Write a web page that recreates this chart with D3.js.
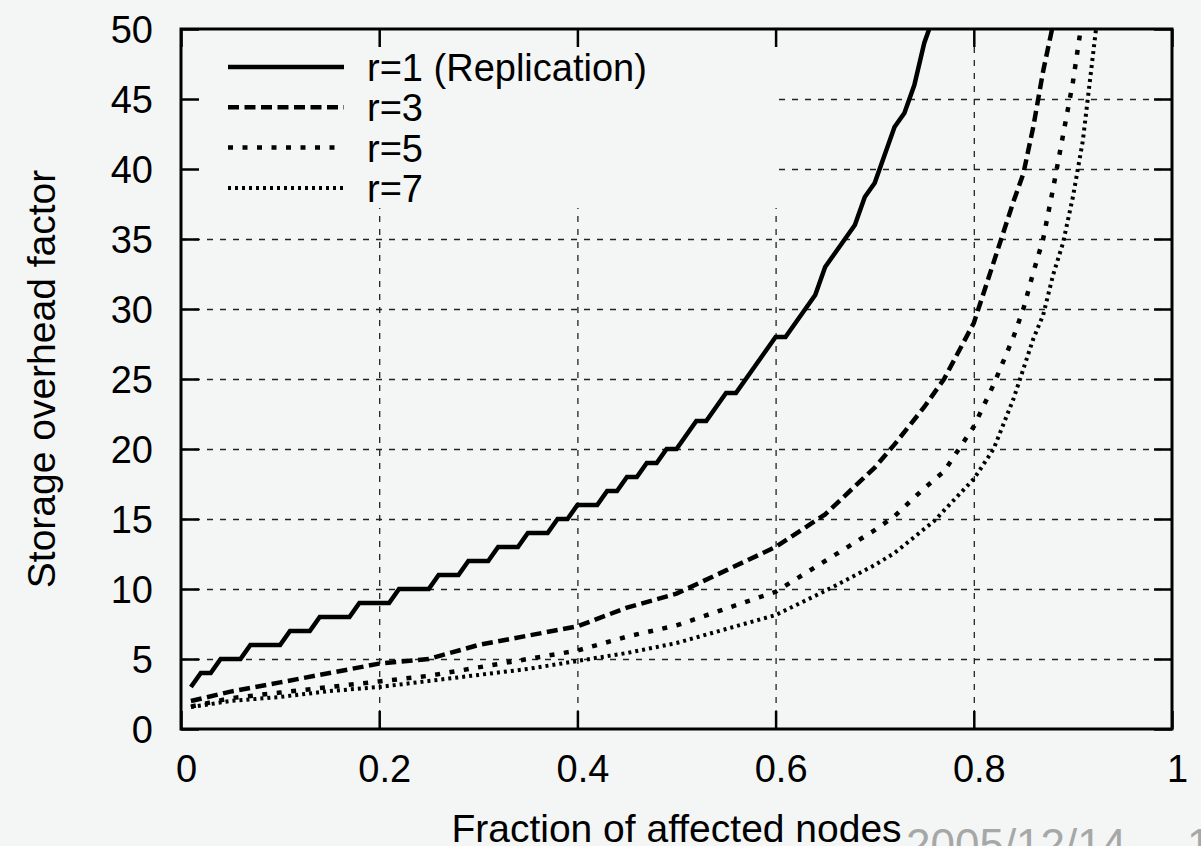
<!DOCTYPE html>
<html>
	<head>
		<meta charset="utf-8">
		<title>Storage overhead</title>
		<script src="https://cdn.jsdelivr.net/npm/d3@7"></script>
		<style>
			body { margin: 0; background-color: #f4f6f6; }
			text { font-family: "Liberation Sans", Arial, Helvetica, sans-serif; fill: #000; }
		</style>
	</head>
	<body>
		<div id="root"></div>
		<script>
			//fraction of affected nodes
			const r1X = [0.01,0.02,0.03,0.04,0.05,0.06,0.07,0.08,0.09,0.10,
				0.11,0.12,0.13,0.14,0.15,0.16,0.17,0.18,0.19,0.20,
				0.21,0.22,0.23,0.24,0.25,0.26,0.27,0.28,0.29,0.30,
				0.31,0.32,0.33,0.34,0.35,0.36,0.37,0.38,0.39,0.40,
				0.41,0.42,0.43,0.44,0.45,0.46,0.47,0.48,0.49,0.50,
				0.51,0.52,0.53,0.54,0.55,0.56,0.57,0.58,0.59,0.60,
				0.61,0.62,0.63,0.64,0.65,0.66,0.67,0.68,0.69,0.70,
				0.71,0.72,0.73,0.74,0.75,0.76];
			const r1Y = [3,4,4,5,5,5,6,6,6,6,
				7,7,7,8,8,8,8,9,9,9,
				9,10,10,10,10,11,11,11,12,12,
				12,13,13,13,14,14,14,15,15,16,
				16,16,17,17,18,18,19,19,20,20,
				21,22,22,23,24,24,25,26,27,28,
				28,29,30,31,33,34,35,36,38,39,
				41,43,44,46,49,51];

			const r3X = [0.01,0.05,0.10,0.15,0.20,0.25,0.30,0.35,0.40,0.45,0.50,0.55,0.60,
				0.65,0.70,0.72,0.75,0.77,0.80,0.82,0.84,0.85,0.86,0.87,0.88];
			const r3Y = [2.00,2.67,3.33,4.00,4.67,5.00,6.00,6.67,7.33,8.67,9.67,11.33,13.00,
				15.33,18.67,20.33,23.00,25.00,29.00,33.33,37.67,39.67,43.00,47.00,50.33];

			const r5X = [0.01,0.05,0.10,0.15,0.20,0.25,0.30,0.35,0.40,0.45,0.50,0.55,0.60,
				0.65,0.70,0.72,0.75,0.77,0.80,0.82,0.84,0.85,0.86,0.87,0.88,0.89,0.90,0.91];
			const r5Y = [1.60,2.20,2.60,3.00,3.40,3.80,4.40,5.00,5.60,6.60,7.40,8.60,9.80,
				12.00,14.20,15.20,17.20,18.40,21.60,24.60,28.00,30.00,32.60,35.00,38.60,42.40,46.20,51.00];

			const r7X = [0.01,0.05,0.10,0.15,0.20,0.25,0.30,0.35,0.40,0.45,0.50,0.55,0.60,
				0.65,0.70,0.72,0.76,0.80,0.82,0.84,0.86,0.87,0.88,0.89,0.90,0.91,0.92,0.925];
			const r7Y = [1.57,2.00,2.29,2.71,3.00,3.43,3.86,4.29,4.86,5.43,6.14,7.14,8.14,
				9.86,11.71,12.57,14.86,17.86,20.00,23.57,27.86,29.57,32.43,34.71,38.00,42.00,48.00,51.00];

			const seriesNames = ["r=1 (Replication)", "r=3", "r=5", "r=7"];
			const xTicks = [0, 0.2, 0.4, 0.6, 0.8, 1];
			const yTicks = [0, 5, 10, 15, 20, 25, 30, 35, 40, 45, 50];

			//dimensions of svg canvas
			const width = 1201;
			const height = 846;
			const pL = 181, pR = 1172, pT = 29, pB = 729;
			const tickLen = 18;

			const xScale = d3.scaleLinear().domain([0, 1]).range([pL, pR]);
			const yScale = d3.scaleLinear().domain([0, 50]).range([pB, pT]);

			const svg = d3.select("#root")
				.append("svg")
				.attr("width", width)
				.attr("height", height)
				.style("display", "block");

			svg.append("rect")
				.attr("width", width)
				.attr("height", height)
				.attr("fill", "#f4f6f6");

			//dashed grid
			const grid = svg.append("g").attr("class", "grid");
			grid.append("g")
				.attr("transform", "translate(0," + pB + ")")
				.call(d3.axisBottom(xScale).tickValues(xTicks.slice(1, -1)).tickSize(-(pB - pT)).tickFormat(""));
			grid.append("g")
				.attr("transform", "translate(" + pL + ",0)")
				.call(d3.axisLeft(yScale).tickValues(yTicks.slice(1, -1)).tickSize(-(pR - pL)).tickFormat(""));
			grid.selectAll(".domain").remove();
			grid.selectAll("line")
				.attr("stroke", "#222")
				.attr("stroke-width", 1.3)
				.attr("stroke-dasharray", "6,7");

			//the key hides the grid behind it
			svg.append("rect")
				.attr("x", pL)
				.attr("y", pT)
				.attr("width", 777 - pL)
				.attr("height", 208 - pT)
				.attr("fill", "#f4f6f6");

			//curves
			svg.append("clipPath")
				.attr("id", "plotClip")
				.append("rect")
				.attr("x", pL)
				.attr("y", pT)
				.attr("width", pR - pL)
				.attr("height", pB - pT);

			const styles = [
				{dash: null, w: 4.5},
				{dash: "11,5.5", w: 4.5},
				{dash: "5,9.5", w: 4.5},
				{dash: "3,4", w: 4}
			];

			const series = [
				r1X.map((x, i) => [x, r1Y[i]]),
				r3X.map((x, i) => [x, r3Y[i]]),
				r5X.map((x, i) => [x, r5Y[i]]),
				r7X.map((x, i) => [x, r7Y[i]])
			];

			const line = d3.line()
				.x(d => xScale(d[0]))
				.y(d => yScale(d[1]));

			svg.append("g")
				.attr("clip-path", "url(#plotClip)")
				.selectAll("path")
				.data(series)
				.enter()
				.append("path")
				.attr("d", line)
				.attr("fill", "none")
				.attr("stroke", "#000")
				.attr("stroke-width", (d, i) => styles[i].w)
				.attr("stroke-dasharray", (d, i) => styles[i].dash)
				.attr("stroke-linejoin", "miter");

			//key
			const key = svg.append("g").attr("class", "key");
			seriesNames.forEach((name, i) => {
				const ky = 67 + i * 40.3;
				key.append("line")
					.attr("x1", 228)
					.attr("x2", 344)
					.attr("y1", ky)
					.attr("y2", ky)
					.attr("stroke", "#000")
					.attr("stroke-width", styles[i].w)
					.attr("stroke-dasharray", styles[i].dash);
				key.append("text")
					.attr("x", 367)
					.attr("y", ky + 14)
					.attr("font-size", "38px")
					.text(name);
			});

			//axes: inward ticks on all four sides
			const xAxis = svg.append("g")
				.attr("transform", "translate(0," + pB + ")")
				.call(d3.axisBottom(xScale).tickValues(xTicks).tickSizeInner(-tickLen).tickSizeOuter(0).tickPadding(26).tickFormat(d3.format("")));
			xAxis.selectAll("text").attr("font-size", "38px").attr("dx", 5);

			const yAxis = svg.append("g")
				.attr("transform", "translate(" + pL + ",0)")
				.call(d3.axisLeft(yScale).tickValues(yTicks).tickSizeInner(-tickLen).tickSizeOuter(0).tickPadding(28));
			yAxis.selectAll("text").attr("font-size", "38px").attr("dy", "0.36em");

			svg.append("g")
				.attr("transform", "translate(0," + pT + ")")
				.call(d3.axisTop(xScale).tickValues(xTicks).tickSizeInner(-tickLen).tickSizeOuter(0).tickFormat(""));
			svg.append("g")
				.attr("transform", "translate(" + pR + ",0)")
				.call(d3.axisRight(yScale).tickValues(yTicks).tickSizeInner(-tickLen).tickSizeOuter(0).tickFormat(""));

			svg.selectAll(".domain").remove();
			svg.selectAll(".tick line").filter(function() { return !this.closest(".grid"); })
				.attr("stroke", "#000")
				.attr("stroke-width", 2.5);
			svg.selectAll(".tick text").attr("fill", "#000").attr("font-family", "Liberation Sans, Arial, sans-serif");

			//frame
			svg.append("rect")
				.attr("x", pL)
				.attr("y", pT)
				.attr("width", pR - pL)
				.attr("height", pB - pT)
				.attr("fill", "none")
				.attr("stroke", "#000")
				.attr("stroke-width", 3);

			//axis titles
			svg.append("text")
				.attr("x", (pL + pR) / 2)
				.attr("y", 842)
				.attr("text-anchor", "middle")
				.attr("font-size", "39px")
				.text("Fraction of affected nodes");

			svg.append("text")
				.attr("transform", "translate(55," + ((pT + pB) / 2) + ") rotate(-90)")
				.attr("text-anchor", "middle")
				.attr("font-size", "39px")
				.text("Storage overhead factor");

			//slide footer showing through at the bottom
			svg.append("text")
				.attr("x", 906)
				.attr("y", 860)
				.attr("font-size", "44px")
				.style("fill", "#a6a8a8")
				.text("2005/12/14");
			svg.append("text")
				.attr("x", 1187)
				.attr("y", 860)
				.attr("font-size", "44px")
				.style("fill", "#a6a8a8")
				.text("1");
		</script>
	</body>
</html>
